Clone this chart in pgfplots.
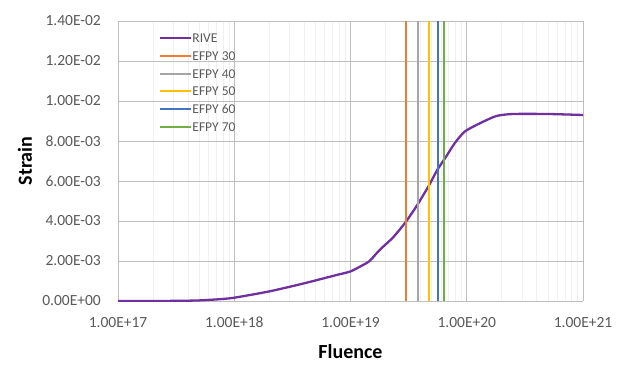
\documentclass[border=0pt]{standalone}
\usepackage{pgfplots}
\pgfplotsset{compat=1.18}
\usepackage{fontspec}
\setmainfont{Carlito}
\definecolor{rive}{HTML}{7030A0}
\definecolor{e30}{HTML}{ED7D31}
\definecolor{e40}{HTML}{A5A5A5}
\definecolor{e50}{HTML}{FFC000}
\definecolor{e60}{HTML}{4472C4}
\definecolor{e70}{HTML}{70AD47}
\definecolor{tick}{HTML}{595959}
\definecolor{grid}{HTML}{D9D9D9}
\definecolor{mgrid}{HTML}{F0F0F0}
\begin{document}
\begin{tikzpicture}
\useasboundingbox (-118pt,-66pt) rectangle (519pt,301pt);
\begin{axis}[
  xmode=log,
  scale only axis,
  width=465pt, height=280pt,
  anchor=south west, at={(0pt,0pt)},
  xmin=1e17, xmax=1e21, ymin=0, ymax=0.014,
  xtick={1e17,1e18,1e19,1e20,1e21},
  xticklabels={1.00E+17,1.00E+18,1.00E+19,1.00E+20,1.00E+21},
  ytick={0,0.002,0.004,0.006,0.008,0.010,0.012,0.014},
  yticklabels={0.00E+00,2.00E-03,4.00E-03,6.00E-03,8.00E-03,1.00E-02,1.20E-02,1.40E-02},
  scaled y ticks=false,
  axis line style={draw=none},
  major tick length=0pt, minor tick length=0pt,
  xmajorgrids, ymajorgrids, xminorgrids,
  major grid style={grid, line width=0.75pt},
  minor grid style={mgrid, line width=0.6pt},
  tick label style={font=\fontsize{15.5}{16}\selectfont, text=tick},
  xticklabel style={inner sep=0pt, anchor=north, yshift=-16pt},
  yticklabel style={inner sep=0pt, anchor=east, xshift=-17pt},
  xlabel={Fluence}, ylabel={Strain},
  every axis x label/.style={at={(axis description cs:0.5,-0.182)}, anchor=center,
     font=\fontsize{20}{22}\selectfont\bfseries, text=black},
  every axis y label/.style={at={(axis description cs:-0.2,0.5)}, rotate=90, anchor=center,
     font=\fontsize{20}{22}\selectfont\bfseries, text=black},
  legend style={at={(axis description cs:0.088,0.957)}, anchor=north west, draw=none, fill=none,
    font=\fontsize{13.5}{14}\selectfont, text=tick, row sep=8.9pt, inner sep=0pt,
    nodes={inner sep=0pt, text height=9pt, text depth=0pt}},
  legend cell align=left,
  legend image code/.code={\draw[#1] (0pt,0pt) -- (31pt,0pt);},
  every axis plot/.append style={line width=2pt},
]
\addplot[rive, line width=2.3pt, smooth, tension=0.4] coordinates {
(1e17,0) (2e17,0) (3.5e17,0.00001) (5e17,0.00003) (7.5e17,0.00009) (1e18,0.000165)
(2e18,0.00048) (3.9e18,0.00087) (7.6e18,0.0013) (1e19,0.00148) (1.28e19,0.0018)
(1.46e19,0.0020) (1.78e19,0.00255) (2.34e19,0.0032) (3e19,0.00397) (3.75e19,0.0048)
(4.7e19,0.00575) (5.57e19,0.00655) (6.49e19,0.00713) (7.9e19,0.0079) (9.6e19,0.00847)
(1.29e20,0.00888) (1.8e20,0.00925) (2.5e20,0.00935) (5e20,0.00935) (1e21,0.0093)
};
\addlegendentry{RIVE}
\addplot[e30] coordinates {(3e19,0) (3e19,0.014)};
\addlegendentry{EFPY 30}
\addplot[e40] coordinates {(3.8e19,0) (3.8e19,0.014)};
\addlegendentry{EFPY 40}
\addplot[e50] coordinates {(4.7e19,0) (4.7e19,0.014)};
\addlegendentry{EFPY 50}
\addplot[e60] coordinates {(5.6e19,0) (5.6e19,0.014)};
\addlegendentry{EFPY 60}
\addplot[e70] coordinates {(6.4e19,0) (6.4e19,0.014)};
\addlegendentry{EFPY 70}
\end{axis}
\end{tikzpicture}
\end{document}
